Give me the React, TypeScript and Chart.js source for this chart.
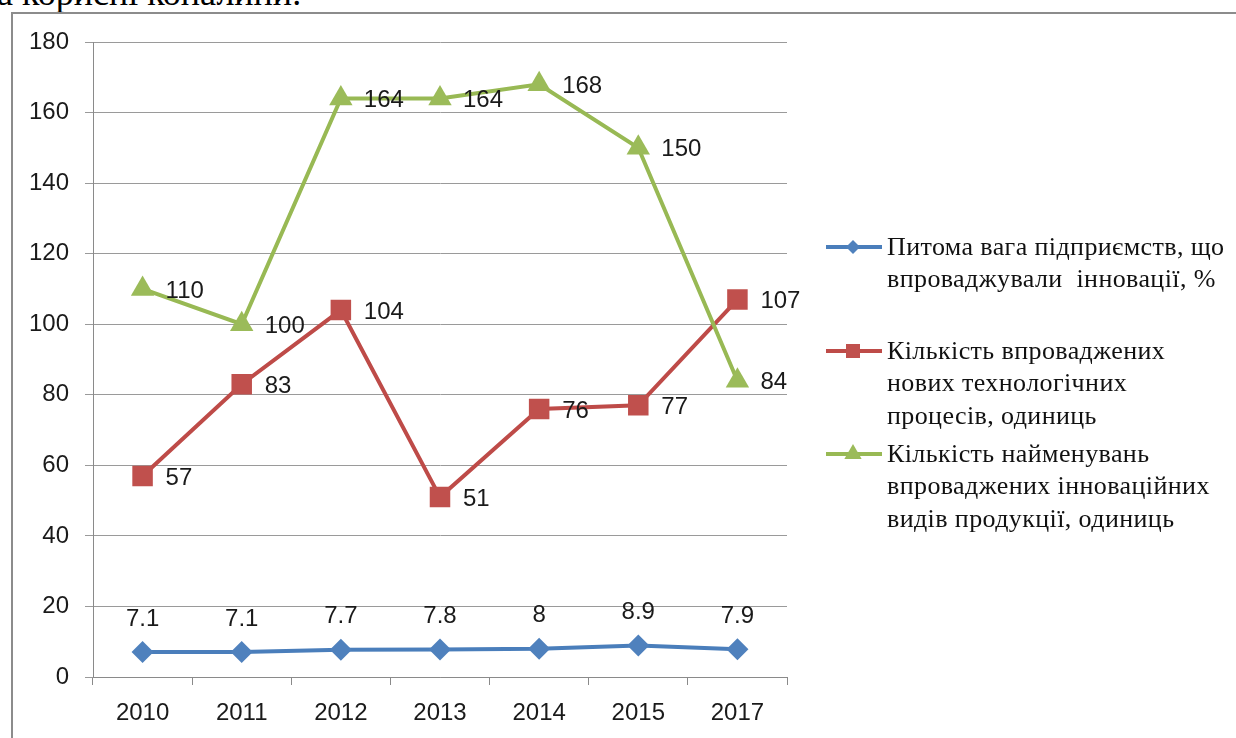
import React, { useEffect, useRef } from "react";
import { Chart, registerables } from "chart.js";

Chart.register(...registerables);

const years = ["2010", "2011", "2012", "2013", "2014", "2015", "2017"];
const shareEnterprises = [7.1, 7.1, 7.7, 7.8, 8, 8.9, 7.9];
const newProcesses = [57, 83, 104, 51, 76, 77, 107];
const innovativeProducts = [110, 100, 164, 164, 168, 150, 84];
const yMin = 0;
const yMax = 180;
const yStep = 20;

const legendShare = ["Питома вага підприємств, що", "впроваджували  інновації, %"];
const legendProcesses = ["Кількість впроваджених", "нових технологічних", "процесів, одиниць"];
const legendProducts = ["Кількість найменувань", "впроваджених інноваційних", "видів продукції, одиниць"];

const BLUE = "#4a7ebb";
const BLUE_M = "#4f81bd";
const RED = "#be4b48";
const RED_M = "#c0504d";
const GREEN = "#98b954";
const GREEN_M = "#9bbb59";

const SANS = "'Liberation Sans', Arial, sans-serif";
const SERIF = "'Liberation Serif', 'Times New Roman', serif";

function drawMarker(ctx: CanvasRenderingContext2D, style: string, x: number, y: number, r: number, color: string) {
  ctx.save();
  ctx.fillStyle = color;
  ctx.beginPath();
  if (style === "rectRot") {
    ctx.moveTo(x, y - r);
    ctx.lineTo(x + r, y);
    ctx.lineTo(x, y + r);
    ctx.lineTo(x - r, y);
  } else if (style === "rect") {
    ctx.rect(x - r, y - r, 2 * r, 2 * r);
  } else {
    ctx.moveTo(x, y - r);
    ctx.lineTo(x + r * 0.866, y + r * 0.5);
    ctx.lineTo(x - r * 0.866, y + r * 0.5);
  }
  ctx.closePath();
  ctx.fill();
  ctx.restore();
}

const valueLabelPlugin = {
  id: "valueLabels",
  afterDatasetsDraw(chart: any) {
    const ctx: CanvasRenderingContext2D = chart.ctx;
    ctx.save();
    ctx.font = `24px ${SANS}`;
    ctx.fillStyle = "#1a1a1a";
    chart.data.datasets.forEach((ds: any, i: number) => {
      const meta = chart.getDatasetMeta(i);
      meta.data.forEach((pt: any, j: number) => {
        const v = ds.data[j];
        const txt = String(v);
        if (ds.labelPos === "top") {
          ctx.textAlign = "center";
          ctx.textBaseline = "middle";
          ctx.fillText(txt, pt.x, pt.y - 33);
        } else {
          ctx.textAlign = "left";
          ctx.textBaseline = "middle";
          ctx.fillText(txt, pt.x + 23, pt.y + 2);
        }
      });
    });
    ctx.restore();
  },
};

const legendPlugin = {
  id: "sideLegend",
  afterDraw(chart: any) {
    const ctx: CanvasRenderingContext2D = chart.ctx;
    const entries = [
      { lines: legendShare, y: 247, color: BLUE, mcolor: BLUE_M, style: "rectRot", r: 7 },
      { lines: legendProcesses, y: 351, color: RED, mcolor: RED_M, style: "rect", r: 7 },
      { lines: legendProducts, y: 454, color: GREEN, mcolor: GREEN_M, style: "triangle", r: 10 },
    ];
    ctx.save();
    entries.forEach((e) => {
      ctx.strokeStyle = e.color;
      ctx.lineWidth = 4;
      ctx.beginPath();
      ctx.moveTo(826, e.y);
      ctx.lineTo(882, e.y);
      ctx.stroke();
      drawMarker(ctx, e.style, 853, e.y, e.r, e.mcolor);
      ctx.font = `26px ${SERIF}`;
      (ctx as any).letterSpacing = "0.4px";
      ctx.fillStyle = "#111";
      ctx.textAlign = "left";
      ctx.textBaseline = "middle";
      e.lines.forEach((ln, k) => {
        ctx.fillText(ln, 887, e.y + 1 + k * 32.5);
      });
      (ctx as any).letterSpacing = "0px";
    });
    ctx.restore();
  },
};

export default function App() {
  const ref = useRef<HTMLCanvasElement | null>(null);

  useEffect(() => {
    if (!ref.current) return;
    const chart = new Chart(ref.current, {
      type: "line",
      data: {
        labels: years,
        datasets: [
          {
            label: legendShare.join(" "),
            data: shareEnterprises,
            borderColor: BLUE,
            backgroundColor: BLUE_M,
            pointBackgroundColor: BLUE_M,
            pointBorderColor: BLUE_M,
            pointStyle: "rectRot",
            pointRadius: 11,
            borderWidth: 4,
            pointBorderWidth: 0,
            order: 2,
            labelPos: "top",
          } as any,
          {
            label: legendProcesses.join(" "),
            data: newProcesses,
            borderColor: RED,
            backgroundColor: RED_M,
            pointBackgroundColor: RED_M,
            pointBorderColor: RED_M,
            pointStyle: "rect",
            pointRadius: 14.5,
            borderWidth: 4,
            pointBorderWidth: 0,
            order: 1,
            labelPos: "right",
          } as any,
          {
            label: legendProducts.join(" "),
            data: innovativeProducts,
            borderColor: GREEN,
            backgroundColor: GREEN_M,
            pointBackgroundColor: GREEN_M,
            pointBorderColor: GREEN_M,
            pointStyle: "triangle",
            pointRadius: 13.5,
            borderWidth: 4,
            pointBorderWidth: 0,
            order: 0,
            labelPos: "right",
          } as any,
        ],
      },
      options: {
        animation: false,
        responsive: false,
        devicePixelRatio: 1,
        layout: { padding: { top: 42, right: 449, left: 0, bottom: 0 } },
        plugins: {
          legend: { display: false },
          tooltip: { enabled: false },
        },
        scales: {
          x: {
            offset: true,
            grid: {
              offset: true,
              drawOnChartArea: false,
              drawTicks: true,
              tickLength: 8,
              color: "#8a8a8a",
            },
            border: { display: true, color: "#8a8a8a", width: 1 },
            ticks: {
              font: { family: SANS, size: 24 },
              color: "#1a1a1a",
              padding: 14,
              maxRotation: 0,
            },
            afterFit: (s: any) => {
              s.height = 61;
            },
          },
          y: {
            min: yMin,
            max: yMax,
            grid: {
              color: "#9a9a9a",
              drawTicks: true,
              tickLength: 8,
            },
            border: { display: true, color: "#8a8a8a", width: 1 },
            ticks: {
              stepSize: yStep,
              font: { family: SANS, size: 24 },
              color: "#1a1a1a",
              padding: 16,
            },
            afterFit: (s: any) => {
              s.width = 93;
            },
          },
        },
      },
      plugins: [valueLabelPlugin, legendPlugin],
    });
    return () => chart.destroy();
  }, []);

  return (
    <div
      style={{
        position: "fixed",
        left: 0,
        top: 0,
        width: 1236,
        height: 738,
        overflow: "hidden",
        background: "#fff",
      }}
    >
      <div
        style={{
          position: "absolute",
          left: -3,
          top: -25,
          fontFamily: SERIF,
          fontSize: 36,
          lineHeight: "36px",
          whiteSpace: "nowrap",
          color: "#000",
        }}
      >
        а корисні копалини.
      </div>
      <div
        style={{
          position: "absolute",
          left: 11,
          top: 12,
          width: 1400,
          height: 900,
          borderLeft: "2px solid #8c8c8c",
          borderTop: "2px solid #8c8c8c",
        }}
      />
      <canvas
        ref={ref}
        width={1236}
        height={738}
        style={{ position: "absolute", left: 0, top: 0, width: 1236, height: 738 }}
      />
    </div>
  );
}
